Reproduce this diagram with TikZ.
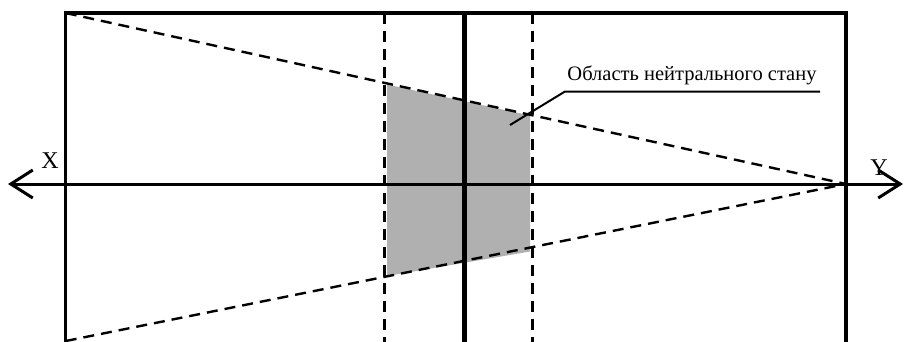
\documentclass[tikz,border=0pt]{standalone}
\usepackage{fontspec}
\setmainfont{Liberation Serif}
\usetikzlibrary{arrows.meta}
\tikzset{barbtip/.tip={Straight Barb[length=22pt,width=28pt,line width=3pt]}}
\begin{document}
\begin{tikzpicture}[x=1pt,y=-1pt,
  frame/.style={line width=3.2pt},
  axisline/.style={line width=3pt},
  dashline/.style={line width=2.4pt,dash pattern=on 11pt off 7pt},
  leader/.style={line width=2pt},
  lbl/.style={font=\fontsize{20.5}{24}\selectfont,inner sep=0pt},
  axlbl/.style={font=\fontsize{24}{28}\selectfont,inner sep=0pt}]
\useasboundingbox (0,0) rectangle (904,341);
% corners and key points
\coordinate (TL) at (65.7,13);
\coordinate (TR) at (846,13);
\coordinate (BL) at (65.7,345);
\coordinate (BR) at (846,345);
\coordinate (P) at (846,184);
\coordinate (AL) at (8,184);
\coordinate (AR) at (903,184);
\coordinate (CT) at (464.5,13);
\coordinate (CB) at (464.5,345);
\coordinate (D1T) at (384.5,13);
\coordinate (D1B) at (384.5,345);
\coordinate (D2T) at (532.5,13);
\coordinate (D2B) at (532.5,345);
\coordinate (LB) at (65.7,341);
% shaded region
\fill[gray!62] (387,84.5) -- (530,115.5) -- (530,251.5) -- (387,276) -- cycle;
% frame
\draw[frame] (BL) -- (TL) -- (TR) -- (BR);
% dashed lines
\draw[dashline] (TL) -- (P);
\draw[dashline] (LB) -- (P);
\draw[dashline] (D1T) -- (D1B);
\draw[dashline] (D2T) -- (D2B);
% center line
\draw[line width=5pt] (CT) -- (CB);
% axis
\draw[axisline,barbtip-barbtip] (AL) -- (AR);
% labels
\node[axlbl] (X) at (50,161) {X};
\node[axlbl] (Y) at (879,168) {Y};
\node[lbl,anchor=south] (T) at (692,85) {Область нейтрального стану};
\coordinate (L0) at (510,125);
\coordinate (L1) at (565,91.5);
\coordinate (L2) at (820,91.5);
\draw[leader] (L0) -- (L1) -- (L2);
\end{tikzpicture}
\end{document}
